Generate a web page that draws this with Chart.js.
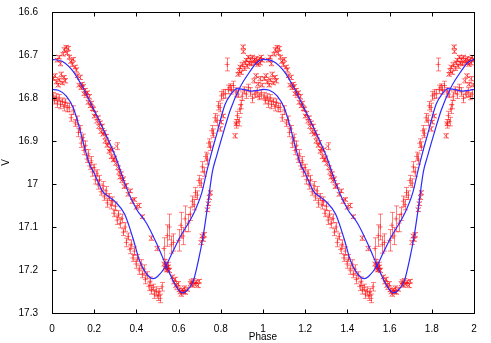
<!DOCTYPE html>
<html lang="en">
<head>
<meta charset="UTF-8">
<title>Light curve</title>
<script src="https://cdn.jsdelivr.net/npm/chart.js"></script>
<style>
    body { margin: 0; background: #fff; }
    #wrap { width: 491px; height: 343px; }
</style>
</head>
<body>
<div id="wrap"><canvas id="lc" width="491" height="343"></canvas></div>
<script>
// axis ticks
const xTicks = [0, 0.2, 0.4, 0.6, 0.8, 1, 1.2, 1.4, 1.6, 1.8, 2];
const yTicks = [16.6, 16.7, 16.8, 16.9, 17, 17.1, 17.2, 17.3];

// set A (x marks), one period of phase
const aPhase = [0.005,0.012,0.020,0.028,0.035,0.042,0.048,0.055,0.062,0.025,0.032,0.040,0.050,0.058,0.065,0.070,0.076,0.082,0.088,0.095,
    0.100,0.108,0.115,0.120,0.126,0.131,0.136,0.141,0.146,0.151,0.156,0.161,0.166,0.171,0.176,0.181,0.186,0.191,0.196,0.201,
    0.206,0.211,0.216,0.221,0.226,0.231,0.236,0.241,0.246,0.251,0.256,0.261,0.266,0.271,0.276,0.281,0.286,0.291,0.296,0.301,
    0.306,0.311,0.316,0.321,0.326,0.331,0.336,0.342,0.350,0.360,0.370,0.380,0.390,0.400,0.410,0.428,0.470,0.497,0.530,0.536,
    0.541,0.546,0.551,0.556,0.570,0.576,0.581,0.586,0.591,0.596,0.601,0.606,0.611,0.616,0.621,0.626,0.632,0.640,0.655,0.660,
    0.665,0.670,0.676,0.682,0.690,0.696,0.705,0.710,0.715,0.720,0.735,0.740,0.745,0.750,0.795,0.801,0.810,0.866,0.872,0.880,
    0.885,0.890,0.895,0.900,0.904,0.907,0.910,0.915,0.920,0.925,0.930,0.935,0.940,0.945,0.950,0.955,0.960,0.965,0.970,0.975,
    0.980,0.985,0.990,0.995,0.955,0.965,0.975,0.985,0.993];
const aMag = [16.755,16.748,16.762,16.770,16.758,16.745,16.765,16.752,16.760,16.712,16.705,16.720,16.698,16.688,16.682,16.695,16.685,16.705,16.715,16.722,
    16.710,16.728,16.735,16.748,16.770,16.752,16.776,16.768,16.774,16.790,16.782,16.794,16.788,16.810,16.797,16.818,16.812,16.824,16.826,16.842,
    16.836,16.854,16.846,16.866,16.858,16.878,16.866,16.884,16.880,16.900,16.889,16.910,16.904,16.924,16.918,16.936,16.921,16.944,16.940,16.952,
    16.912,16.962,16.972,16.984,16.976,16.992,16.988,17.006,17.004,17.024,17.016,17.040,17.036,17.054,17.050,17.076,17.126,17.150,17.186,17.196,
    17.188,17.200,17.193,17.201,17.216,17.228,17.222,17.236,17.241,17.232,17.246,17.251,17.256,17.247,17.251,17.242,17.252,17.245,17.232,17.227,
    17.236,17.225,17.233,17.228,17.236,17.226,17.136,17.121,17.129,17.118,17.060,17.046,17.031,17.020,16.872,16.856,16.842,16.888,16.860,16.745,
    16.736,16.728,16.741,16.722,16.681,16.692,16.731,16.718,16.712,16.726,16.705,16.719,16.710,16.721,16.705,16.713,16.718,16.708,16.716,16.722,
    16.710,16.718,16.705,16.712,16.760,16.748,16.768,16.755,16.770];
const aErr = [0.004,0.004,0.005,0.004,0.004,0.005,0.004,0.004,0.005,0.004,0.004,0.005,0.004,0.005,0.004,0.004,0.005,0.004,0.004,0.005,
    0.004,0.004,0.005,0.004,0.004,0.005,0.004,0.004,0.005,0.004,0.004,0.005,0.004,0.004,0.005,0.004,0.004,0.005,0.004,0.004,
    0.005,0.004,0.004,0.005,0.004,0.004,0.005,0.004,0.004,0.005,0.004,0.004,0.005,0.004,0.004,0.005,0.004,0.004,0.005,0.004,
    0.008,0.004,0.005,0.004,0.004,0.005,0.004,0.004,0.005,0.004,0.004,0.005,0.004,0.004,0.005,0.004,0.005,0.005,0.004,0.004,
    0.005,0.004,0.004,0.005,0.004,0.004,0.005,0.004,0.004,0.005,0.004,0.004,0.005,0.004,0.004,0.005,0.004,0.004,0.005,0.004,
    0.004,0.005,0.004,0.004,0.005,0.004,0.005,0.004,0.004,0.005,0.004,0.004,0.005,0.004,0.005,0.004,0.004,0.005,0.004,0.004,
    0.005,0.004,0.004,0.005,0.004,0.004,0.005,0.004,0.004,0.005,0.004,0.004,0.005,0.004,0.004,0.005,0.004,0.004,0.005,0.004,
    0.004,0.005,0.004,0.004,0.005,0.004,0.004,0.005,0.004];

// set B (+ marks with error bars), one period of phase
const bPhase = [0.003,0.010,0.018,0.025,0.032,0.040,0.048,0.055,0.062,0.070,0.080,0.090,0.100,0.110,0.118,0.125,0.131,0.138,0.145,0.151,
    0.158,0.165,0.171,0.178,0.185,0.191,0.198,0.205,0.211,0.218,0.225,0.232,0.240,0.248,0.255,0.262,0.270,0.278,0.285,0.292,
    0.300,0.308,0.315,0.322,0.330,0.338,0.345,0.352,0.360,0.368,0.375,0.382,0.390,0.398,0.405,0.412,0.420,0.428,0.435,0.442,
    0.450,0.458,0.465,0.470,0.478,0.485,0.492,0.500,0.505,0.512,0.520,0.530,0.535,0.542,0.546,0.548,0.556,0.565,0.575,0.600,
    0.610,0.620,0.630,0.645,0.655,0.665,0.672,0.680,0.688,0.695,0.705,0.712,0.720,0.728,0.735,0.742,0.750,0.757,0.765,0.772,
    0.780,0.788,0.795,0.803,0.810,0.830,0.820,0.835,0.842,0.850,0.860,0.870,0.872,0.878,0.884,0.889,0.895,0.880,0.900,0.910,
    0.920,0.930,0.940,0.950,0.960,0.970,0.980,0.990];
const bMag = [16.795,16.806,16.798,16.812,16.800,16.815,16.808,16.820,16.810,16.822,16.822,16.846,16.828,16.858,16.852,16.880,16.872,16.905,16.892,16.922,
    16.910,16.942,16.930,16.958,16.946,16.972,16.962,16.990,16.975,17.002,16.990,17.018,17.004,17.030,17.016,17.044,17.030,17.048,17.040,17.068,
    17.052,17.084,17.070,17.092,17.080,17.112,17.100,17.136,17.122,17.152,17.140,17.172,17.156,17.186,17.172,17.200,17.186,17.210,17.198,17.222,
    17.212,17.238,17.226,17.246,17.241,17.256,17.249,17.261,17.251,17.266,17.239,17.150,17.186,17.195,17.120,17.190,17.100,17.141,17.136,17.131,
    17.096,17.121,17.081,17.091,17.070,17.040,17.048,17.020,17.026,16.992,16.998,16.960,16.972,16.936,16.942,16.905,16.912,16.876,16.882,16.846,
    16.852,16.818,16.822,16.795,16.791,16.722,16.790,16.780,16.775,16.781,16.771,16.786,16.860,16.841,16.855,16.826,16.815,16.791,16.796,16.782,
    16.791,16.776,16.786,16.801,16.791,16.786,16.796,16.791];
const bErr = [0.008,0.008,0.008,0.010,0.008,0.010,0.008,0.010,0.008,0.010,0.010,0.008,0.010,0.008,0.010,0.010,0.008,0.010,0.008,0.010,
    0.010,0.008,0.010,0.008,0.010,0.010,0.008,0.010,0.008,0.010,0.010,0.008,0.010,0.008,0.010,0.010,0.008,0.010,0.010,0.008,
    0.010,0.010,0.008,0.010,0.010,0.008,0.010,0.010,0.008,0.010,0.010,0.008,0.010,0.010,0.008,0.010,0.010,0.008,0.010,0.010,
    0.008,0.010,0.010,0.010,0.008,0.010,0.010,0.010,0.008,0.010,0.010,0.025,0.010,0.008,0.025,0.008,0.030,0.020,0.020,0.025,
    0.030,0.020,0.030,0.020,0.015,0.012,0.012,0.012,0.010,0.012,0.010,0.012,0.010,0.010,0.012,0.010,0.010,0.012,0.010,0.010,
    0.012,0.010,0.010,0.010,0.010,0.015,0.010,0.010,0.008,0.010,0.010,0.010,0.010,0.010,0.010,0.010,0.010,0.008,0.010,0.008,
    0.010,0.008,0.010,0.010,0.008,0.010,0.008,0.010];

// fitted curves, one period
const fitAPhase = [0, 0.05, 0.10, 0.15, 0.20, 0.25, 0.30, 0.35, 0.40, 0.45, 0.50, 0.55, 0.575, 0.60, 0.62, 0.645, 0.67, 0.695, 0.715, 0.735, 0.76, 0.78, 0.81, 0.845, 0.89, 0.94, 0.97, 1.0];
const fitAMag = [16.710, 16.715, 16.738, 16.779, 16.829, 16.880, 16.935, 17.005, 17.058, 17.093, 17.143, 17.200, 17.226, 17.246, 17.253, 17.245, 17.225, 17.175, 17.125, 17.060, 16.972, 16.935, 16.884, 16.828, 16.776, 16.737, 16.718, 16.710];
const fitBPhase = [0, 0.03, 0.067, 0.10, 0.125, 0.146, 0.178, 0.20, 0.24, 0.27, 0.297, 0.344, 0.383, 0.416, 0.45, 0.48, 0.50, 0.54, 0.57, 0.605, 0.67, 0.71, 0.734, 0.76, 0.78, 0.82, 0.85, 0.876, 0.906, 0.946, 0.98, 1.0];
const fitBMag = [16.780, 16.782, 16.795, 16.822, 16.860, 16.900, 16.954, 16.975, 17.017, 17.030, 17.040, 17.070, 17.125, 17.180, 17.210, 17.220, 17.215, 17.190, 17.160, 17.125, 17.070, 17.020, 16.970, 16.920, 16.885, 16.815, 16.790, 16.778, 16.780, 16.784, 16.782, 16.780];

// phase-folded data is plotted twice (0..1 and 1..2)
function twoCycles(ph, mag, err) {
    const out = [];
    for (let k = 0; k < 2; k++) {
        ph.forEach((p, i) => out.push({ x: p + k, y: mag[i], e: err ? err[i] : 0 }));
    }
    return out;
}
function twoCyclesCurve(ph, mag) {
    const out = [];
    ph.forEach((p, i) => out.push({ x: p, y: mag[i] }));
    ph.forEach((p, i) => { if (i > 0) out.push({ x: p + 1, y: mag[i] }); });
    return out;
}

const red = 'rgba(255,0,0,0.5)';
const blue = '#2a2aff';

const errorBars = {
    id: 'errorBars',
    beforeDatasetsDraw(chart) {
        const ctx = chart.ctx, ys = chart.scales.y, area = chart.chartArea;
        ctx.save();
        ctx.beginPath();
        ctx.rect(area.left, area.top, area.right - area.left, area.bottom - area.top);
        ctx.clip();
        ctx.strokeStyle = red;
        ctx.lineWidth = 1;
        chart.data.datasets.forEach((ds, i) => {
            if (!ds.errBars) return;
            const meta = chart.getDatasetMeta(i);
            meta.data.forEach((pt, j) => {
                const d = ds.data[j];
                const y1 = ys.getPixelForValue(d.y - d.e);
                const y2 = ys.getPixelForValue(d.y + d.e);
                const x = Math.round(pt.x) + 0.5;
                ctx.beginPath();
                ctx.moveTo(x, y1); ctx.lineTo(x, y2);
                ctx.moveTo(x - 2.5, y1); ctx.lineTo(x + 2.5, y1);
                ctx.moveTo(x - 2.5, y2); ctx.lineTo(x + 2.5, y2);
                ctx.stroke();
            });
        });
        ctx.restore();
    }
};

const frame = {
    id: 'frame',
    afterDraw(chart) {
        const ctx = chart.ctx, a = chart.chartArea;
        const l = Math.round(a.left) + 0.5, r = Math.round(a.right) + 0.5;
        const t = Math.round(a.top) + 0.5, b = Math.round(a.bottom) + 0.5;
        ctx.save();
        ctx.strokeStyle = '#000';
        ctx.lineWidth = 1;
        ctx.beginPath();
        chart.scales.x.ticks.forEach(tk => {
            const x = Math.round(chart.scales.x.getPixelForValue(tk.value)) + 0.5;
            ctx.moveTo(x, b); ctx.lineTo(x, b - 4);
            ctx.moveTo(x, t); ctx.lineTo(x, t + 4);
        });
        chart.scales.y.ticks.forEach(tk => {
            const y = Math.round(chart.scales.y.getPixelForValue(tk.value)) + 0.5;
            ctx.moveTo(l, y); ctx.lineTo(l + 4, y);
            ctx.moveTo(r, y); ctx.lineTo(r - 4, y);
        });
        ctx.stroke();
        ctx.strokeRect(l, t, r - l, b - t);
        ctx.restore();
    }
};

Chart.defaults.font.family = '"Liberation Sans", Arial, sans-serif';
Chart.defaults.font.size = 10;
Chart.defaults.color = '#000';

new Chart(document.getElementById('lc'), {
    type: 'scatter',
    data: {
        datasets: [
            { type: 'line', data: twoCyclesCurve(fitAPhase, fitAMag), borderColor: blue, borderWidth: 1.2,
              pointRadius: 0, cubicInterpolationMode: 'monotone', fill: false },
            { type: 'line', data: twoCyclesCurve(fitBPhase, fitBMag), borderColor: blue, borderWidth: 1.2,
              pointRadius: 0, cubicInterpolationMode: 'monotone', fill: false },
            { data: twoCycles(aPhase, aMag, aErr), errBars: true, pointStyle: 'crossRot', pointRadius: 3.5,
              borderColor: red, backgroundColor: red, borderWidth: 1 },
            { data: twoCycles(bPhase, bMag, bErr), errBars: true, pointStyle: 'cross', pointRadius: 2.5,
              borderColor: red, backgroundColor: red, borderWidth: 1 }
        ]
    },
    options: {
        responsive: false,
        animation: false,
        layout: { padding: { left: 0, right: 17, top: 11, bottom: 0 } },
        plugins: { legend: { display: false }, tooltip: { enabled: false } },
        scales: {
            x: {
                type: 'linear', min: 0, max: 2,
                grid: { display: false }, border: { display: false },
                afterBuildTicks: s => { s.ticks = xTicks.map(v => ({ value: v })); },
                afterFit: s => { s.height = 30; },
                ticks: { padding: 2, maxRotation: 0, autoSkip: false, callback: v => String(v) },
                title: { display: true, text: 'Phase', padding: { top: 0, bottom: 0 } }
            },
            y: {
                type: 'linear', min: 16.6, max: 17.3, reverse: true,
                grid: { display: false }, border: { display: false },
                afterBuildTicks: s => { s.ticks = yTicks.map(v => ({ value: v })); },
                afterFit: s => { s.width = 52; },
                ticks: { padding: 6, autoSkip: false, callback: v => String(v) },
                title: { display: true, text: 'V', padding: { top: 0, bottom: 0 } }
            }
        }
    },
    plugins: [errorBars, frame]
});
</script>
</body>
</html>
